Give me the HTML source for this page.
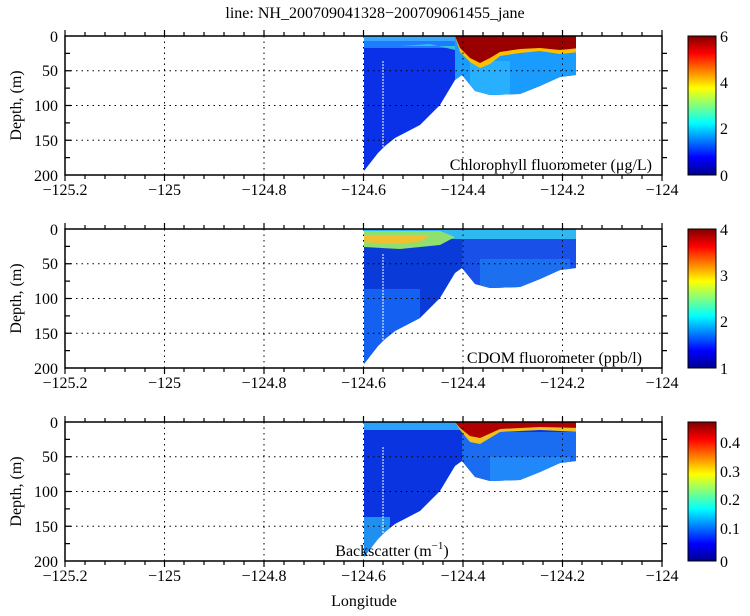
<!DOCTYPE html>
<html><head><meta charset="utf-8"><style>
html,body{margin:0;padding:0;background:#fff;}
svg, svg text{font-family:'Liberation Serif','Times New Roman',Times,serif !important;font-size:16px;fill:#000;}
</style></head><body>
<svg width="750" height="611" viewBox="0 0 750 611" xmlns="http://www.w3.org/2000/svg" style="font-family:'Liberation Serif','Times New Roman',Times,serif">
<defs>
<linearGradient id="jet" x1="0" y1="1" x2="0" y2="0">
<stop offset="0" stop-color="#00008f"/><stop offset="0.125" stop-color="#0000ff"/>
<stop offset="0.375" stop-color="#00ffff"/><stop offset="0.625" stop-color="#ffff00"/>
<stop offset="0.875" stop-color="#ff0000"/><stop offset="1" stop-color="#800000"/>
</linearGradient>
<clipPath id="shape"><path d="M364,0 L576,0 L576,39 L560,41 L540,50 L520,58 L490,59 L475,55 L462,39 L455,44 L440,69 L420,89 L395,102 L385,110 L378,117 L364,135 Z"/></clipPath>
<g id="axes">
<rect x="65" y="0" width="597" height="139" fill="none" stroke="#000" stroke-width="1.5"/>
<g stroke="#000" stroke-dasharray="1.5,4" stroke-width="1">
<line x1="164.5" y1="0" x2="164.5" y2="139"/><line x1="264" y1="0" x2="264" y2="139"/>
<line x1="363.5" y1="0" x2="363.5" y2="139"/><line x1="463" y1="0" x2="463" y2="139"/>
<line x1="562.5" y1="0" x2="562.5" y2="139"/>
<line x1="65" y1="34.75" x2="662" y2="34.75"/><line x1="65" y1="69.5" x2="662" y2="69.5"/>
<line x1="65" y1="104.25" x2="662" y2="104.25"/>
</g>
<g stroke="#000" stroke-width="1.2">
<path d="M65,0v-6M85,0v-4M105,0v-4M125,0v-4M145,0v-4M164.5,0v-6M184,0v-4M204,0v-4M224,0v-4M244,0v-4M264,0v-6M284,0v-4M304,0v-4M324,0v-4M344,0v-4M363.5,0v-6M383,0v-4M403,0v-4M423,0v-4M443,0v-4M463,0v-6M483,0v-4M503,0v-4M523,0v-4M543,0v-4M562.5,0v-6M582,0v-4M602,0v-4M622,0v-4M642,0v-4M662,0v-6"/>
<path d="M65,139v6M85,139v4M105,139v4M125,139v4M145,139v4M164.5,139v6M184,139v4M204,139v4M224,139v4M244,139v4M264,139v6M284,139v4M304,139v4M324,139v4M344,139v4M363.5,139v6M383,139v4M403,139v4M423,139v4M443,139v4M463,139v6M483,139v4M503,139v4M523,139v4M543,139v4M562.5,139v6M582,139v4M602,139v4M622,139v4M642,139v4M662,139v6"/>
<path d="M65,17.4h5M65,34.75h6M65,52.1h5M65,69.5h6M65,86.9h5M65,104.25h6M65,121.6h5"/>
<path d="M662,17.4h5M662,34.75h6M662,52.1h5M662,69.5h6M662,86.9h5M662,104.25h6M662,121.6h5"/>
</g>
<g text-anchor="end">
<text x="58" y="6">0</text><text x="58" y="40">50</text><text x="58" y="75">100</text>
<text x="58" y="110">150</text><text x="58" y="145">200</text>
</g>
<g text-anchor="middle">
<text x="65" y="159">−125.2</text><text x="164.5" y="159">−125</text><text x="264" y="159">−124.8</text>
<text x="363.5" y="159">−124.6</text><text x="463" y="159">−124.4</text><text x="562.5" y="159">−124.2</text>
<text x="662" y="159">−124</text>
</g>
<text transform="translate(21,69.5) rotate(-90)" text-anchor="middle">Depth, (m)</text>
<rect x="688" y="0" width="28" height="139" fill="url(#jet)" stroke="#000" stroke-width="1"/>
</g>
</defs>

<text x="375" y="18" text-anchor="middle">line: NH_200709041328−200709061455_jane</text>

<!-- Panel 1 -->
<g transform="translate(0,36)">
<g clip-path="url(#shape)">
<rect x="360" y="0" width="220" height="140" fill="#0a30e8"/>
<rect x="360" y="0" width="105" height="12" fill="#1e7cff"/>
<rect x="360" y="0" width="105" height="5" fill="#3aa8ff"/>
<path d="M400,10 L430,8 L455,14 L462,22 L462,10Z" fill="#30c0e0"/>
<rect x="455" y="0" width="125" height="70" fill="#1a9cff"/>
<rect x="470" y="25" width="40" height="35" fill="#28b0ff"/>
<path d="M455,0 H580 V16 L560,18 L540,15 L520,17 L500,20 L490,28 L480,32 L470,26 L460,16 Z" fill="#ffc000"/>
<path d="M455,0 H580 V12 L560,14 L540,12 L520,13 L500,16 L490,22 L480,27 L470,22 L460,12 Z" fill="#9a0000"/>
<line x1="383" y1="25" x2="383" y2="120" stroke="#fff" stroke-width="1" stroke-dasharray="2,1"/>
</g>
<use href="#axes"/>
<text x="652" y="134" text-anchor="end">Chlorophyll fluorometer (μg/L)</text>
<text x="720" y="6">6</text><text x="720" y="52">4</text><text x="720" y="98">2</text><text x="720" y="145">0</text>
</g>

<!-- Panel 2 -->
<g transform="translate(0,229)">
<g clip-path="url(#shape)">
<rect x="360" y="0" width="220" height="140" fill="#0a3ad8"/>
<rect x="360" y="60" width="60" height="80" fill="#1460f0"/>
<rect x="360" y="0" width="220" height="10" fill="#30b8f0"/>
<path d="M364,2 H440 L455,8 L440,16 L400,20 L364,18 Z" fill="#90e070"/>
<path d="M364,6 H430 L420,13 L390,15 L364,13 Z" fill="#f0c030"/>
<rect x="462" y="10" width="118" height="50" fill="#1850e8"/>
<rect x="480" y="30" width="90" height="30" fill="#1c70f0"/>
<line x1="383" y1="25" x2="383" y2="120" stroke="#fff" stroke-width="1" stroke-dasharray="2,1"/>
</g>
<use href="#axes"/>
<text x="642" y="134" text-anchor="end">CDOM fluorometer (ppb/l)</text>
<text x="720" y="6">4</text><text x="720" y="52">3</text><text x="720" y="98">2</text><text x="720" y="145">1</text>
</g>

<!-- Panel 3 -->
<g transform="translate(0,422)">
<g clip-path="url(#shape)">
<rect x="360" y="0" width="220" height="140" fill="#0a34e0"/>
<rect x="360" y="95" width="30" height="45" fill="#2090f0"/>
<rect x="360" y="0" width="105" height="8" fill="#2aa0ff"/>
<rect x="462" y="10" width="118" height="60" fill="#1a6cf0"/>
<rect x="490" y="35" width="80" height="30" fill="#2088f8"/>
<path d="M455,0 H580 V10 L540,8 L500,10 L480,22 L470,20 L460,8Z" fill="#f0c020"/>
<path d="M455,0 H580 V6 L540,5 L500,7 L480,16 L470,14 L460,6Z" fill="#b00000"/>
<line x1="383" y1="25" x2="383" y2="120" stroke="#fff" stroke-width="1" stroke-dasharray="2,1"/>
</g>
<use href="#axes"/>
<text x="392" y="134" text-anchor="middle">Backscatter (m<tspan dy="-7" font-size="11">−1</tspan><tspan dy="7">)</tspan></text>
<text x="720" y="26">0.4</text><text x="720" y="55">0.3</text><text x="720" y="83">0.2</text><text x="720" y="112">0.1</text><text x="720" y="145">0</text>
</g>

<text x="364" y="606" text-anchor="middle">Longitude</text>
</svg>
</body></html>
